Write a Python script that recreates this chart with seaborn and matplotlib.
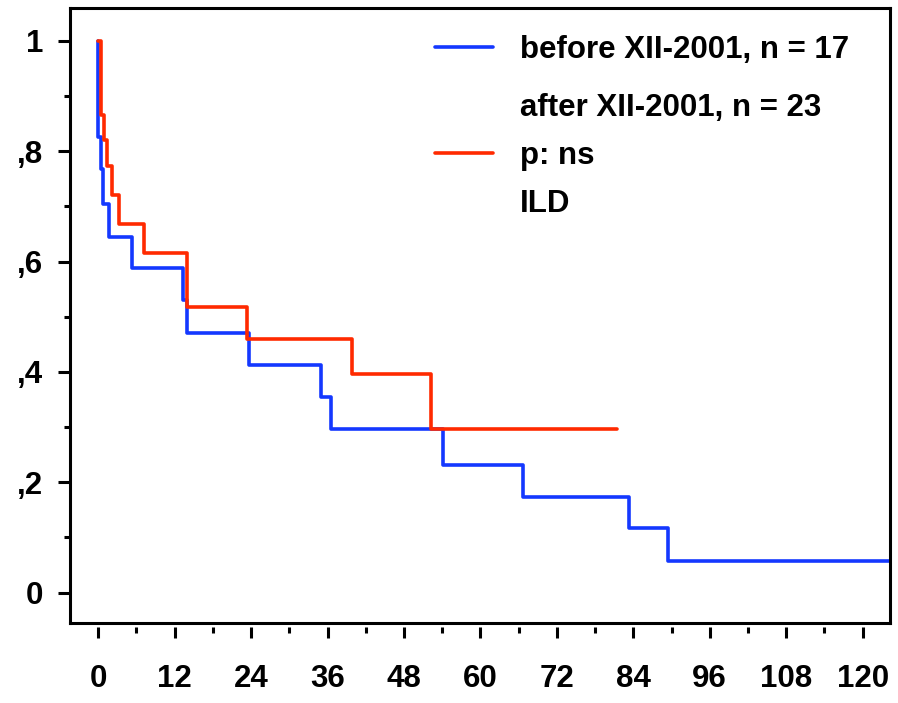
import matplotlib
matplotlib.use("Agg")
import matplotlib.pyplot as plt
from matplotlib.lines import Line2D
from matplotlib.ticker import FixedLocator
import pandas as pd
import seaborn as sns

# ---------------- data ----------------
before_time = [0.0, 0.0, 0.38, 0.78, 1.73, 5.34, 13.3, 13.9, 23.7, 34.9, 36.6, 54.2, 66.7, 83.3, 89.5, 126.0]
before_surv = [1.0, 0.826, 0.767, 0.704, 0.645, 0.588, 0.530, 0.471, 0.412, 0.355, 0.296, 0.231, 0.174, 0.117, 0.058, 0.058]

after_time = [0.0, 0.35, 0.94, 1.32, 2.2, 3.2, 7.17, 13.9, 23.3, 39.8, 52.3, 81.4]
after_surv = [1.0, 0.865, 0.820, 0.773, 0.721, 0.668, 0.616, 0.518, 0.460, 0.396, 0.296, 0.296]

group_names = ["before", "after"]
legend_labels_1 = ["before XII-2001, n = 17"]
legend_labels_2 = ["after XII-2001, n = 23", "p: ns", "ILD"]

x_ticks = [0, 12, 24, 36, 48, 60, 72, 84, 96, 108, 120]
x_minor = [6, 18, 30, 42, 54, 66, 78, 90, 102, 114]
y_ticks = [0, 0.2, 0.4, 0.6, 0.8, 1.0]
y_ticklabels = ["0", ",2", ",4", ",6", ",8", "1"]
y_minor = [0.1, 0.3, 0.5, 0.7, 0.9]

# ---------------- styling ----------------
BLUE = "#1438ff"
RED = "#ff2a00"
LW = 2.6

sns.set_style("white")
plt.rcParams["font.family"] = ["Liberation Sans", "DejaVu Sans"]
plt.rcParams["font.weight"] = "bold"
for key in ["text.color", "axes.labelcolor", "xtick.color", "ytick.color"]:
    plt.rcParams[key] = "black"

df = pd.concat([
    pd.DataFrame({"time": before_time, "surv": before_surv, "group": group_names[0]}),
    pd.DataFrame({"time": after_time, "surv": after_surv, "group": group_names[1]}),
], ignore_index=True)

fig = plt.figure(figsize=(8.98, 7.03), dpi=100)
ax = fig.add_axes([0.07795, 0.11337, 0.9131, 0.8748])

sns.lineplot(data=df, x="time", y="surv", hue="group", hue_order=group_names,
             palette=[BLUE, RED], estimator=None, sort=False, units="group",
             drawstyle="steps-post", linewidth=LW, legend=False, ax=ax)

ax.set_xlim(-4.44, 124.3)
ax.set_ylim(-0.0555, 1.059)
ax.set_xlabel("")
ax.set_ylabel("")

# frame
for side in ["left", "right", "top", "bottom"]:
    ax.spines[side].set_color("black")
    ax.spines[side].set_linewidth(2.2)
ax.spines["bottom"].set_position(("outward", 3))
ax.spines["bottom"].set_visible(False)
ax.plot([0, 1], [0, 0], transform=ax.transAxes, color="black", lw=2.2,
        clip_on=False, solid_capstyle="projecting", zorder=5)

# ticks
ax.xaxis.set_major_locator(FixedLocator(x_ticks))
ax.xaxis.set_minor_locator(FixedLocator(x_minor))
ax.set_xticklabels([str(t) for t in x_ticks])
ax.yaxis.set_major_locator(FixedLocator(y_ticks))
ax.yaxis.set_minor_locator(FixedLocator(y_minor))
ax.set_yticklabels(y_ticklabels)

tick_font = 22.5
ax.tick_params(axis="x", which="major", direction="out", length=8, width=2.2,
               pad=18, labelsize=tick_font, bottom=True, top=False, colors="black")
ax.tick_params(axis="x", which="minor", direction="out", length=4, width=2.2,
               bottom=True, top=False, colors="black")
ax.tick_params(axis="y", which="major", direction="out", length=8.4, width=2.2,
               pad=11, labelsize=tick_font, left=True, right=False, colors="black")
ax.tick_params(axis="y", which="minor", direction="out", length=4.3, width=2.2,
               left=True, right=False, colors="black")
for lab in ax.get_xticklabels() + ax.get_yticklabels():
    lab.set_fontweight("bold")

# legends
prop = {"size": 22.5, "weight": "bold"}
h1 = [Line2D([], [], color=BLUE, lw=LW)]
leg1 = ax.legend(h1, legend_labels_1, loc="upper left", bbox_to_anchor=(0.445, 0.9566),
                 frameon=False, handlelength=1.86, handletextpad=0.85, borderpad=0,
                 borderaxespad=0, prop=prop, labelcolor="black")
ax.add_artist(leg1)
h2 = [Line2D([], [], color="none", lw=LW), Line2D([], [], color=RED, lw=LW),
      Line2D([], [], color="none", lw=LW)]
ax.legend(h2, legend_labels_2, loc="upper left", bbox_to_anchor=(0.445, 0.8619),
          frameon=False, handlelength=1.86, handletextpad=0.85, borderpad=0,
          borderaxespad=0, labelspacing=0.58, prop=prop, labelcolor="black")

fig.savefig("out.png", dpi=100)
